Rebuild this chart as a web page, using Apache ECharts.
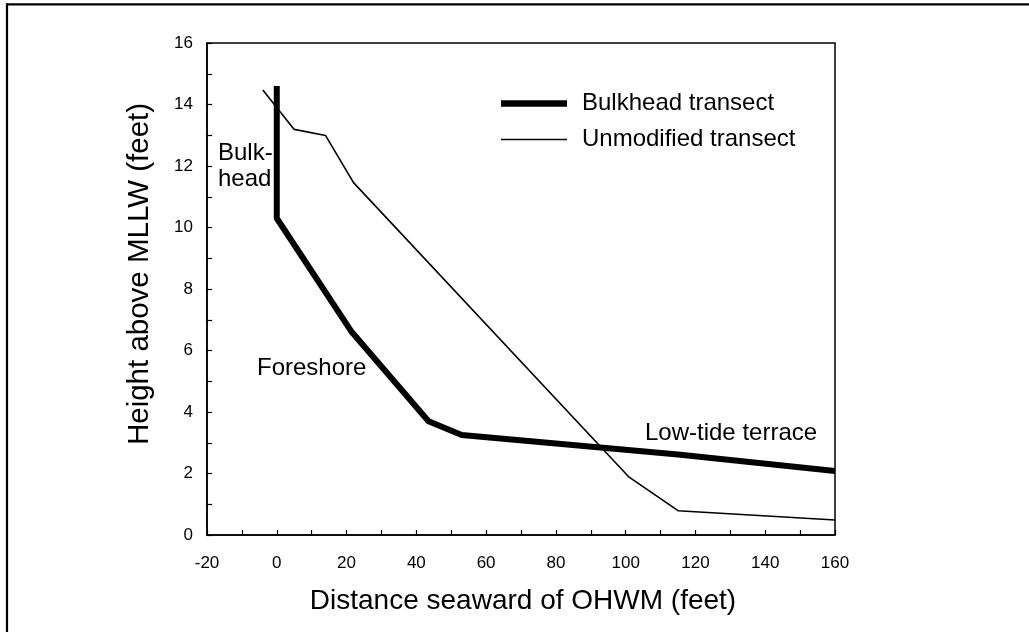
<!DOCTYPE html>
<html>
<head>
<meta charset="utf-8">
<script src="https://cdn.jsdelivr.net/npm/echarts@6/dist/echarts.min.js"></script>
<style>
html,body{margin:0;padding:0;background:#fff;}
#c{width:1029px;height:632px;}
</style>
</head>
<body>
<div id="c"></div>
<script>
// Data
const bulkheadX = [0, 0, 21.5, 43.5, 53, 115, 160];
const bulkheadY = [14.6, 10.3, 6.6, 3.7, 3.25, 2.62, 2.08];
const unmodX = [-4, 5, 14, 22, 101, 115, 160];
const unmodY = [14.47, 13.19, 12.99, 11.46, 1.88, 0.79, 0.49];
const seriesNames = ['Bulkhead transect', 'Unmodified transect'];
const xTitle = 'Distance seaward of OHWM (feet)';
const yTitle = 'Height above MLLW (feet)';
const annotations = ['Bulk-', 'head', 'Foreshore', 'Low-tide terrace'];

const toPairs = (xs, ys) => xs.map((x, i) => [x, ys[i]]);
const FONT = '"Liberation Sans", Arial, sans-serif';

const chart = echarts.init(document.getElementById('c'), null, {renderer: 'canvas'});
chart.setOption({
  backgroundColor: '#fff',
  animation: false,
  grid: {left: 207, top: 43, right: 194, bottom: 97, show: true, borderColor: '#000', borderWidth: 1.5, backgroundColor: 'transparent'},
  xAxis: {
    type: 'value', min: -20, max: 160, interval: 20,
    axisLine: {show: true, onZero: false, lineStyle: {color: '#000', width: 1.5}},
    axisTick: {show: true, inside: true, length: 5, lineStyle: {color: '#000', width: 1.2}},
    minorTick: {show: true, splitNumber: 2, length: 5, lineStyle: {color: '#000', width: 1.2}},
    splitLine: {show: false},
    axisLabel: {color: '#000', fontSize: 17, fontFamily: FONT, margin: 20}
  },
  yAxis: {
    type: 'value', min: 0, max: 16, interval: 2,
    axisLine: {show: true, onZero: false, lineStyle: {color: '#000', width: 1.5}},
    axisTick: {show: true, inside: true, length: 5, lineStyle: {color: '#000', width: 1.2}},
    minorTick: {show: true, splitNumber: 2, length: 5, lineStyle: {color: '#000', width: 1.2}},
    splitLine: {show: false},
    axisLabel: {color: '#000', fontSize: 17, fontFamily: FONT, margin: 14}
  },
  legend: {
    orient: 'vertical', left: 501, top: 91, padding: 0, itemWidth: 66, itemHeight: 14, itemGap: 11,
    symbolKeepAspect: true,
    data: [
      {name: seriesNames[0], icon: 'path://M0,0H66V6.5H0Z', itemStyle: {color: '#000'}},
      {name: seriesNames[1], icon: 'path://M0,0H66V1.7H0Z', itemStyle: {color: '#000'}}
    ],
    textStyle: {color: '#000', fontSize: 24, fontFamily: FONT, lineHeight: 25, padding: [0, 0, 0, 10]}
  },
  series: [
    {name: seriesNames[0], type: 'line', data: toPairs(bulkheadX, bulkheadY), symbol: 'none',
     lineStyle: {color: '#000', width: 6, join: 'round'}, itemStyle: {color: '#000'}},
    {name: seriesNames[1], type: 'line', data: toPairs(unmodX, unmodY), symbol: 'none',
     lineStyle: {color: '#000', width: 1.6}, itemStyle: {color: '#000'}}
  ],
  graphic: [
    {type: 'line', shape: {x1: 7, y1: 4.3, x2: 1029, y2: 4.3}, style: {stroke: '#000', lineWidth: 2.2}},
    {type: 'line', shape: {x1: 7, y1: 3.2, x2: 7, y2: 632}, style: {stroke: '#000', lineWidth: 2.2}},
    {type: 'text', x: 140, y: 274, rotation: Math.PI / 2,
     style: {text: yTitle, font: '29.5px ' + FONT, fill: '#000', align: 'center', verticalAlign: 'middle'}},
    {type: 'text', x: 523, y: 601,
     style: {text: xTitle, font: '28px ' + FONT, fill: '#000', align: 'center', verticalAlign: 'middle'}},
    {type: 'text', x: 218, y: 153, style: {text: annotations[0], font: '24px ' + FONT, fill: '#000', align: 'left', verticalAlign: 'middle'}},
    {type: 'text', x: 218, y: 179, style: {text: annotations[1], font: '24px ' + FONT, fill: '#000', align: 'left', verticalAlign: 'middle'}},
    {type: 'text', x: 257, y: 368, style: {text: annotations[2], font: '24px ' + FONT, fill: '#000', align: 'left', verticalAlign: 'middle'}},
    {type: 'text', x: 645, y: 433, style: {text: annotations[3], font: '24px ' + FONT, fill: '#000', align: 'left', verticalAlign: 'middle'}}
  ]
});
</script>
</body>
</html>
